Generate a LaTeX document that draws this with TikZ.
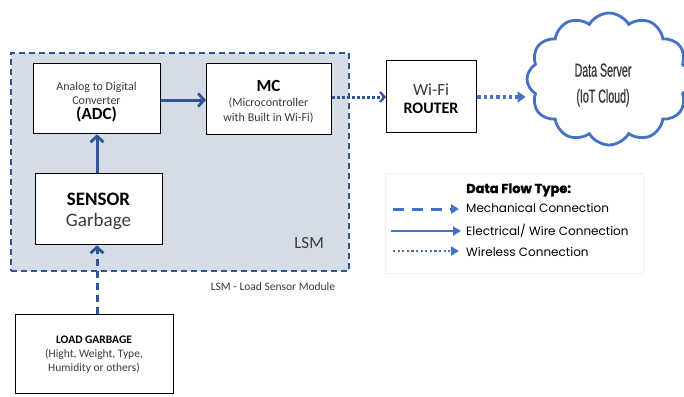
\documentclass[tikz,border=0pt]{standalone}
\usepackage{fontspec}
\setmainfont{Carlito}
\newfontfamily\legendfont{Poppins}[BoldFeatures={FakeBold=1.8}]
\newfontfamily\cloudfont{Liberation Sans}[FakeStretch=0.56,FakeBold=0.8]
\usetikzlibrary{shapes.symbols,arrows.meta}
\definecolor{lsmfill}{HTML}{D5DCE6}
\definecolor{dblue}{HTML}{2F5597}
\definecolor{lblue}{HTML}{4472C4}
\definecolor{txtgray}{HTML}{3A3A3A}
\begin{document}
\begin{tikzpicture}[x=1pt,y=-1pt,
  box/.style={draw=black, line width=1.3pt, fill=white, inner sep=0pt, anchor=north west, align=center},
  mainline/.style={draw=dblue, line width=3pt, -{Straight Barb[length=6pt,width=13pt,line width=2.8pt]}},
  mechline/.style={mainline, dash pattern=on 7pt off 5pt},
  wireless/.style={draw=dblue, line width=3pt, dash pattern=on 2.4pt off 2.6pt},
  legtip/.style={-{Triangle[length=8pt,width=9pt]}},
  legtext/.style={anchor=west, inner sep=0pt, font=\legendfont\fontsize{12}{14}\selectfont, text=black}
]
\useasboundingbox (0,0) rectangle (684,396);
\clip (0,0) rectangle (684,396);

% LSM module area
\node[draw=dblue, dash pattern=on 6pt off 4pt, line width=1.6pt, fill=lsmfill,
      minimum width=338pt, minimum height=218pt, anchor=north west, inner sep=0pt] (lsm) at (10,52) {};
\node[anchor=base east, inner sep=0pt, font=\fontsize{17}{20}\selectfont, text=txtgray] (lsmlabel) at (324,248) {LSM};

% blocks
\node[box, minimum width=127pt, minimum height=70pt] (adc) at (33,63) {};
\node[align=center, inner sep=0pt, text=txtgray, font=\fontsize{12}{14}\selectfont] (adctext) at (96.5,102)
  {Analog to Digital\\Converter\\[1.5pt]{\fontsize{17}{18}\selectfont\bfseries\color{black}(ADC)}};

\node[box, minimum width=125pt, minimum height=71pt] (mc) at (206,63) {};
\node[align=center, inner sep=0pt, text=txtgray, font=\fontsize{12}{15}\selectfont] (mctext) at (268.5,102)
  {{\fontsize{17}{16}\selectfont\bfseries\color{black}MC}\\(Microcontroller\\with Built in Wi-Fi)};

\node[box, minimum width=127pt, minimum height=71pt] (sensor) at (35,173) {};
\node[align=center, inner sep=0pt, font=\fontsize{19}{21}\selectfont] (sensortext) at (98.5,211)
  {\bfseries SENSOR\\{\color{txtgray}Garbage}};

\node[box, minimum width=90pt, minimum height=72pt] (router) at (386,60) {};
\node[align=center, inner sep=0pt, font=\fontsize{17}{18}\selectfont] (routertext) at (431,99)
  {{\color{txtgray}Wi-Fi}\\{\fontsize{16}{18}\selectfont\bfseries ROUTER}};

\node[box, minimum width=158pt, minimum height=79pt] (load) at (15,314) {};
\node[align=center, inner sep=0pt, text=txtgray, font=\fontsize{11.5}{14}\selectfont] (loadtext) at (94,355)
  {{\bfseries\color{black}LOAD GARBAGE}\\(Hight, Weight, Type,\\Humidity or others)};

\node[inner sep=0pt, text=txtgray, font=\fontsize{11.5}{13}\selectfont] (lsmcap) at (273,287) {LSM - Load Sensor Module};

% cloud
\node[cloud, cloud puffs=12, cloud puff arc=120, aspect=1.15, draw=lblue, line width=2.8pt, fill=white,
      minimum width=164pt, minimum height=132pt, inner sep=0pt] (cloud) at (609,79) {};
\node[align=center, inner sep=0pt, text=txtgray, font=\cloudfont\fontsize{19}{26}\selectfont] (cloudtext) at (603,85)
  {Data Server\\(IoT Cloud)};

% connectors
\draw[mainline] (adc.east |- 0,100) -- (mc.west |- 0,100);
\draw[mainline] (sensor.north -| 97,0) -- (adc.south -| 97,0);
\draw[mechline] (load.north -| 97,0) -- (sensor.south -| 97,0);
\draw[wireless, -{Straight Barb[length=4.5pt,width=10pt,line width=2.2pt]}] (mc.east |- 0,97) -- (router.west |- 0,97);
\draw[wireless, draw=lblue, line width=4pt, dash pattern=on 3.5pt off 2.8pt, -{Triangle[length=8pt,width=11pt]}] (router.east |- 0,97) -- (cloud.west |- 0,97);

% legend
\node[fill=white, draw=black!6, line width=1pt, minimum width=258pt, minimum height=100pt, anchor=north west, inner sep=0pt] (legend) at (385,173) {};
\node[anchor=base west, inner sep=0pt, font=\legendfont\bfseries\fontsize{13}{15}\selectfont] (legtitle) at (466,193) {Data Flow Type:};
\coordinate (l1a) at (393,209); \coordinate (l1b) at (459,209);
\coordinate (l2a) at (391,231); \coordinate (l2b) at (461,231);
\coordinate (l3a) at (393,251); \coordinate (l3b) at (459,251);
\draw[draw=lblue, line width=3pt, dash pattern=on 11pt off 8pt, legtip] (l1a) -- (l1b);
\draw[draw=lblue, line width=2.8pt, legtip] (l2a) -- (l2b);
\draw[draw=lblue, line width=2.6pt, dash pattern=on 2.2pt off 2.4pt, legtip] (l3a) -- (l3b);
\node[legtext] (leg1) at (466,208) {Mechanical Connection};
\node[legtext] (leg2) at (466,231) {Electrical/ Wire Connection};
\node[legtext] (leg3) at (466,252) {Wireless Connection};
\end{tikzpicture}
\end{document}
